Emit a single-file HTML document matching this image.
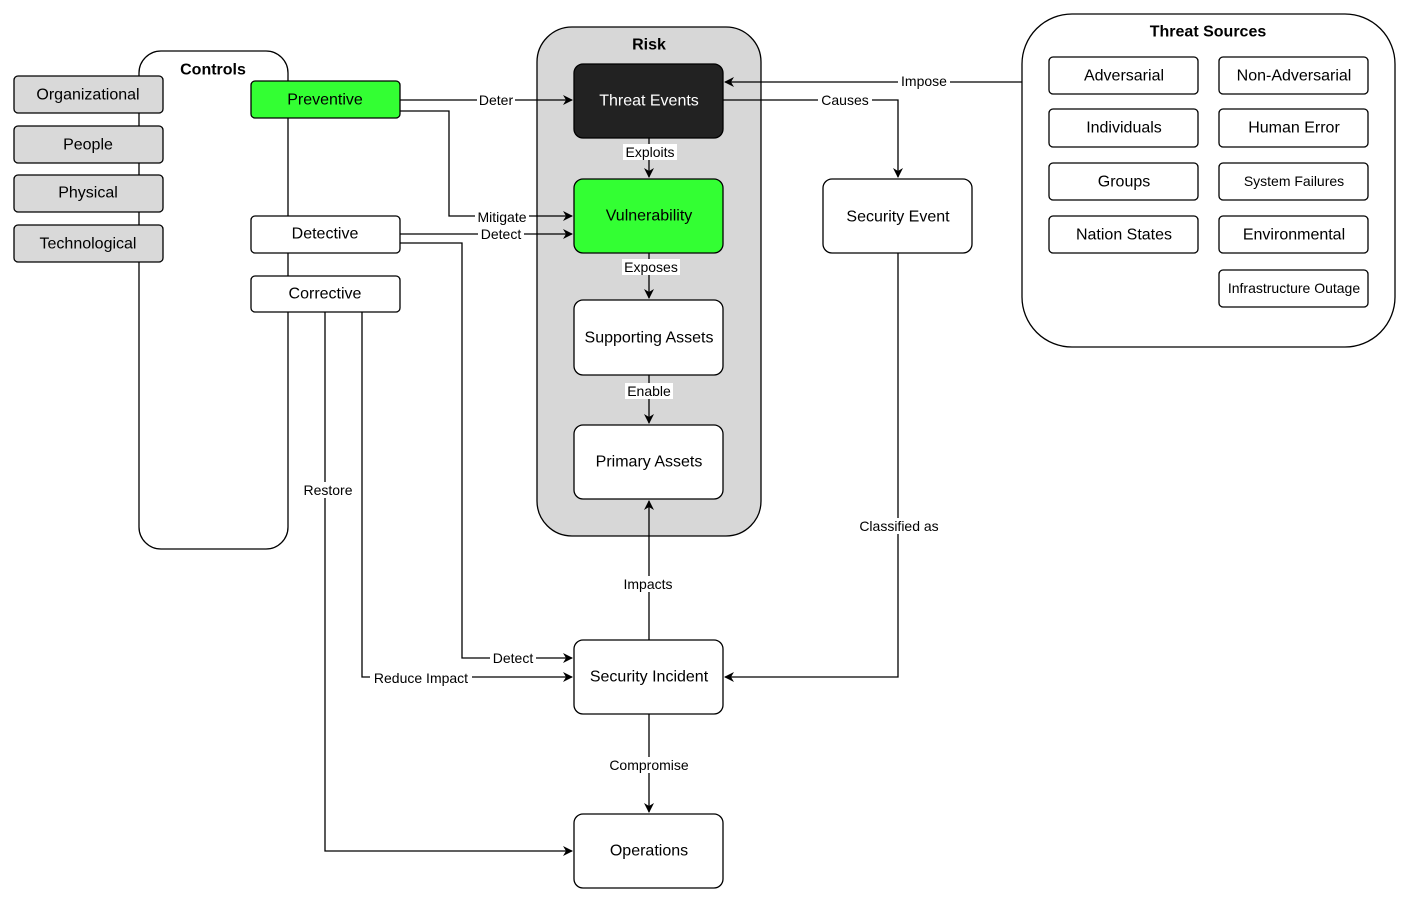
<!DOCTYPE html>
<html><head><meta charset="utf-8"><style>
html,body{margin:0;padding:0;background:#fff;}
svg{display:block;font-family:"Liberation Sans",Arial,sans-serif;}
.n{font-size:16px;text-anchor:middle;dominant-baseline:central;}
.l{font-size:14px;text-anchor:middle;dominant-baseline:central;}
.e{fill:none;stroke:#000;stroke-width:1.3;}
</style></head><body>
<svg width="1410" height="902" viewBox="0 0 1410 902" xmlns="http://www.w3.org/2000/svg">
<defs><marker id="a" markerWidth="10" markerHeight="10" refX="9" refY="5" orient="auto" markerUnits="userSpaceOnUse"><path d="M0,0 L10,5 L0,10 L3,5 Z" fill="#000"/></marker></defs>
<!-- containers -->
<rect x="139" y="51" width="149" height="498" rx="22" fill="#fff" stroke="#000" stroke-width="1.3"/>
<text x="213" y="70" class="n" style="font-weight:bold">Controls</text>
<rect x="537" y="27" width="224" height="509" rx="35" fill="#d7d7d7" stroke="#000" stroke-width="1.3"/>
<text x="649" y="45" class="n" style="font-weight:bold">Risk</text>
<rect x="1022" y="14" width="373" height="333" rx="50" fill="#fff" stroke="#000" stroke-width="1.3"/>
<text x="1208" y="32" class="n" style="font-weight:bold">Threat Sources</text>
<!-- edges -->
<path class="e" d="M400,100 H572" marker-end="url(#a)"/>
<path class="e" d="M400,111 H449 V216 H572" marker-end="url(#a)"/>
<path class="e" d="M400,234 H572" marker-end="url(#a)"/>
<path class="e" d="M400,243 H462 V658 H572" marker-end="url(#a)"/>
<path class="e" d="M362,312 V677 H572" marker-end="url(#a)"/>
<path class="e" d="M325,312 V851 H572" marker-end="url(#a)"/>
<path class="e" d="M649,138 V177" marker-end="url(#a)"/>
<path class="e" d="M649,253 V298" marker-end="url(#a)"/>
<path class="e" d="M649,375 V423" marker-end="url(#a)"/>
<path class="e" d="M649,640 V501" marker-end="url(#a)"/>
<path class="e" d="M649,714 V812" marker-end="url(#a)"/>
<path class="e" d="M898,253 V677 H725" marker-end="url(#a)"/>
<path class="e" d="M723,100 H898 V177" marker-end="url(#a)"/>
<path class="e" d="M1022,82 H725" marker-end="url(#a)"/>
<!-- left gray boxes -->
<g fill="#d9d9d9" stroke="#000" stroke-width="1.3">
<rect x="14" y="76" width="149" height="37" rx="4"/>
<rect x="14" y="126" width="149" height="37" rx="4"/>
<rect x="14" y="175" width="149" height="37" rx="4"/>
<rect x="14" y="225" width="149" height="37" rx="4"/>
</g>
<text x="88" y="95" class="n">Organizational</text>
<text x="88" y="145" class="n">People</text>
<text x="88" y="193" class="n">Physical</text>
<text x="88" y="244" class="n">Technological</text>
<!-- controls -->
<rect x="251" y="81" width="149" height="37" rx="4" fill="#33ff33" stroke="#000" stroke-width="1.3"/>
<text x="325" y="100" class="n">Preventive</text>
<rect x="251" y="216" width="149" height="37" rx="4" fill="#fff" stroke="#000" stroke-width="1.3"/>
<text x="325" y="234" class="n">Detective</text>
<rect x="251" y="276" width="149" height="36" rx="4" fill="#fff" stroke="#000" stroke-width="1.3"/>
<text x="325" y="294" class="n">Corrective</text>
<!-- risk nodes -->
<rect x="574" y="64" width="149" height="74" rx="9" fill="#222" stroke="#000" stroke-width="1.3"/>
<text x="649" y="101" class="n" fill="#fff">Threat Events</text>
<rect x="574" y="179" width="149" height="74" rx="9" fill="#33ff33" stroke="#000" stroke-width="1.3"/>
<text x="649" y="216" class="n">Vulnerability</text>
<rect x="574" y="300" width="149" height="75" rx="9" fill="#fff" stroke="#000" stroke-width="1.3"/>
<text x="649" y="338" class="n">Supporting Assets</text>
<rect x="574" y="425" width="149" height="74" rx="9" fill="#fff" stroke="#000" stroke-width="1.3"/>
<text x="649" y="462" class="n">Primary Assets</text>
<rect x="823" y="179" width="149" height="74" rx="9" fill="#fff" stroke="#000" stroke-width="1.3"/>
<text x="898" y="217" class="n">Security Event</text>
<rect x="574" y="640" width="149" height="74" rx="9" fill="#fff" stroke="#000" stroke-width="1.3"/>
<text x="649" y="677" class="n">Security Incident</text>
<rect x="574" y="814" width="149" height="74" rx="9" fill="#fff" stroke="#000" stroke-width="1.3"/>
<text x="649" y="851" class="n">Operations</text>
<!-- threat sources -->
<g fill="#fff" stroke="#000" stroke-width="1.3">
<rect x="1049" y="57" width="149" height="37" rx="4"/>
<rect x="1219" y="57" width="149" height="37" rx="4"/>
<rect x="1049" y="109" width="149" height="38" rx="4"/>
<rect x="1219" y="109" width="149" height="38" rx="4"/>
<rect x="1049" y="163" width="149" height="37" rx="4"/>
<rect x="1219" y="163" width="149" height="37" rx="4"/>
<rect x="1049" y="216" width="149" height="37" rx="4"/>
<rect x="1219" y="216" width="149" height="37" rx="4"/>
<rect x="1219" y="270" width="149" height="37" rx="4"/>
</g>
<text x="1124" y="76" class="n">Adversarial</text>
<text x="1294" y="76" class="n">Non-Adversarial</text>
<text x="1124" y="128" class="n">Individuals</text>
<text x="1294" y="128" class="n">Human Error</text>
<text x="1124" y="182" class="n">Groups</text>
<text x="1294" y="181" class="n" style="font-size:14px">System Failures</text>
<text x="1124" y="235" class="n">Nation States</text>
<text x="1294" y="235" class="n">Environmental</text>
<text x="1294" y="288" class="n" style="font-size:14px">Infrastructure Outage</text>
<!-- edge labels -->
<g fill="#fff">
<rect x="477" y="92" width="38" height="16"/>
<rect x="475" y="209" width="54" height="16"/>
<rect x="478" y="226" width="46" height="16"/>
<rect x="490" y="650" width="46" height="16"/>
<rect x="370" y="669" width="102" height="16"/>
<rect x="300" y="482" width="56" height="16"/>
<rect x="623" y="144" width="54" height="16"/>
<rect x="622" y="259" width="58" height="16"/>
<rect x="625" y="383" width="48" height="16"/>
<rect x="620" y="576" width="56" height="16"/>
<rect x="604" y="757" width="90" height="16"/>
<rect x="855" y="518" width="88" height="16"/>
<rect x="818" y="92" width="54" height="16"/>
<rect x="898" y="73" width="52" height="16"/>
</g>
<text x="496" y="100" class="l">Deter</text>
<text x="502" y="217" class="l">Mitigate</text>
<text x="501" y="234" class="l">Detect</text>
<text x="513" y="658" class="l">Detect</text>
<text x="421" y="678" class="l">Reduce Impact</text>
<text x="328" y="490" class="l">Restore</text>
<text x="650" y="152" class="l">Exploits</text>
<text x="651" y="267" class="l">Exposes</text>
<text x="649" y="391" class="l">Enable</text>
<text x="648" y="584" class="l">Impacts</text>
<text x="649" y="765" class="l">Compromise</text>
<text x="899" y="526" class="l">Classified as</text>
<text x="845" y="100" class="l">Causes</text>
<text x="924" y="81" class="l">Impose</text>
</svg>
</body></html>
